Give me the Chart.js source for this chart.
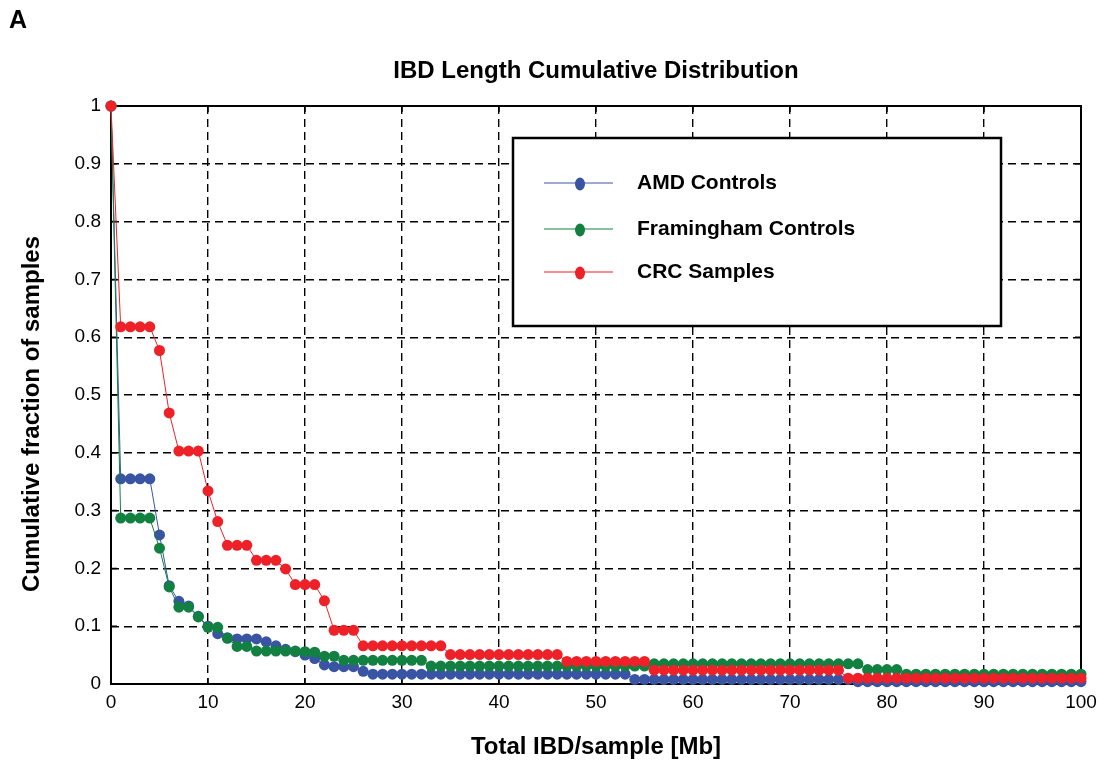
<!DOCTYPE html>
<html>
<head>
<meta charset="utf-8">
<script src="https://cdn.jsdelivr.net/npm/chart.js@4.4.1/dist/chart.umd.min.js"></script>
<style>
  html, body { margin: 0; padding: 0; background: #fff; }
  #wrap { width: 1106px; height: 766px; }
</style>
</head>
<body>
<div id="wrap"><canvas id="ibd" width="1106" height="766"></canvas></div>
<script>
// x positions: total IBD per sample, Mb
const mbValues = [0,1,2,3,4,5,6,7,8,9,10,11,12,13,14,15,16,17,18,19,20,
  21,22,23,24,25,26,27,28,29,30,31,32,33,34,35,36,37,38,39,40,
  41,42,43,44,45,46,47,48,49,50,51,52,53,54,55,56,57,58,59,60,
  61,62,63,64,65,66,67,68,69,70,71,72,73,74,75,76,77,78,79,80,
  81,82,83,84,85,86,87,88,89,90,91,92,93,94,95,96,97,98,99,100];

// AMD Controls
const amdControls = [1,
  0.355,0.355,0.355,0.355,0.258,0.17,0.143,0.135,0.117,0.1,
  0.087,0.08,0.078,0.078,0.078,0.073,0.066,0.06,0.056,0.05,
  0.044,0.033,0.03,0.03,0.03,0.022,0.017,0.017,0.017,0.017,
  0.017,0.017,0.017,0.017,0.017,0.017,0.017,0.017,0.017,0.017,
  0.017,0.017,0.017,0.017,0.017,0.017,0.017,0.017,0.017,0.017,
  0.017,0.017,0.017,0.008,0.008,0.008,0.008,0.008,0.008,0.008,
  0.008,0.008,0.008,0.008,0.008,0.008,0.008,0.008,0.008,0.008,
  0.008,0.008,0.008,0.008,0.008,0.008,0.004,0.004,0.004,0.004,
  0.004,0.004,0.004,0.004,0.004,0.004,0.004,0.004,0.004,0.004,
  0.004,0.004,0.004,0.004,0.004,0.004,0.004,0.004,0.004,0.004];

// Framingham Controls
const framinghamControls = [1,
  0.287,0.287,0.287,0.287,0.235,0.168,0.133,0.133,0.116,0.098,
  0.098,0.079,0.065,0.065,0.057,0.057,0.057,0.057,0.057,0.056,
  0.055,0.048,0.048,0.041,0.041,0.041,0.041,0.041,0.041,0.041,
  0.041,0.041,0.031,0.031,0.031,0.031,0.031,0.031,0.031,0.031,
  0.031,0.031,0.031,0.031,0.031,0.031,0.031,0.031,0.031,0.031,
  0.031,0.031,0.031,0.031,0.031,0.035,0.035,0.035,0.035,0.035,
  0.035,0.035,0.035,0.035,0.035,0.035,0.035,0.035,0.035,0.035,
  0.035,0.035,0.035,0.035,0.035,0.035,0.035,0.025,0.025,0.025,
  0.025,0.017,0.017,0.017,0.017,0.017,0.017,0.017,0.017,0.017,
  0.017,0.017,0.017,0.017,0.017,0.017,0.017,0.017,0.017,0.017];

// CRC Samples
const crcSamples = [1,
  0.618,0.618,0.618,0.618,0.577,0.469,0.403,0.403,0.403,0.334,
  0.281,0.24,0.24,0.24,0.214,0.214,0.214,0.199,0.172,0.172,
  0.172,0.144,0.093,0.093,0.093,0.066,0.066,0.066,0.066,0.066,
  0.066,0.066,0.066,0.066,0.051,0.051,0.051,0.051,0.051,0.051,
  0.051,0.051,0.051,0.051,0.051,0.051,0.039,0.039,0.039,0.039,
  0.039,0.039,0.039,0.039,0.039,0.024,0.024,0.024,0.024,0.024,
  0.024,0.024,0.024,0.024,0.024,0.024,0.024,0.024,0.024,0.024,
  0.024,0.024,0.024,0.024,0.024,0.01,0.01,0.01,0.01,0.01,
  0.01,0.01,0.01,0.01,0.01,0.01,0.01,0.01,0.01,0.01,
  0.01,0.01,0.01,0.01,0.01,0.01,0.01,0.01,0.01,0.01];

const chartTitle = 'IBD Length Cumulative Distribution';
const xTitle = 'Total IBD/sample [Mb]';
const yTitle = 'Cumulative fraction of samples';

const FONT = 'Arial, "Liberation Sans", Helvetica, sans-serif';

function toPoints(ys) {
  return mbValues.map((x, i) => ({ x: x, y: ys[i] }));
}

function series(label, ys, color, order) {
  return {
    label: label,
    data: toPoints(ys),
    borderColor: color,
    backgroundColor: color,
    pointBackgroundColor: color,
    pointBorderWidth: 0,
    pointRadius: 5.5,
    pointHoverRadius: 5.5,
    borderWidth: 1,
    tension: 0,
    clip: false,
    order: order
  };
}

const datasets = [
  series('AMD Controls', amdControls, '#3a54a4', 3),
  series('Framingham Controls', framinghamControls, '#128040', 2),
  series('CRC Samples', crcSamples, '#ee2128', 1)
];

// box, inward ticks, legend, titles and panel letter
const decor = {
  id: 'decor',
  beforeDatasetsDraw(chart) {
    const { ctx, chartArea: a, scales } = chart;
    ctx.save();
    ctx.strokeStyle = '#000';
    ctx.lineWidth = 2;
    ctx.strokeRect(a.left, a.top, a.right - a.left, a.bottom - a.top);
    ctx.lineWidth = 1.5;
    ctx.beginPath();
    scales.x.ticks.forEach(t => {
      const px = scales.x.getPixelForValue(t.value);
      ctx.moveTo(px, a.bottom); ctx.lineTo(px, a.bottom - 6);
      ctx.moveTo(px, a.top); ctx.lineTo(px, a.top + 6);
    });
    scales.y.ticks.forEach(t => {
      const py = scales.y.getPixelForValue(t.value);
      ctx.moveTo(a.left, py); ctx.lineTo(a.left + 6, py);
      ctx.moveTo(a.right, py); ctx.lineTo(a.right - 6, py);
    });
    ctx.stroke();
    ctx.restore();
  },
  afterDatasetsDraw(chart) {
    const { ctx, chartArea: a } = chart;
    ctx.save();
    // legend box
    const bx = a.left + 402, by = a.top + 32, bw = 488, bh = 188;
    ctx.fillStyle = '#fff';
    ctx.fillRect(bx, by, bw, bh);
    ctx.strokeStyle = '#000';
    ctx.lineWidth = 2.5;
    ctx.strokeRect(bx, by, bw, bh);
    const rows = [45, 91, 134];
    ctx.font = 'bold 21px ' + FONT;
    ctx.textBaseline = 'middle';
    ctx.textAlign = 'left';
    chart.data.datasets.forEach((ds, i) => {
      const y = by + rows[i];
      ctx.strokeStyle = ds.borderColor;
      ctx.lineWidth = 1;
      ctx.beginPath();
      ctx.moveTo(bx + 31, y); ctx.lineTo(bx + 100, y);
      ctx.stroke();
      ctx.fillStyle = ds.borderColor;
      ctx.beginPath();
      ctx.ellipse(bx + 67, y + 1, 5, 6.5, 0, 0, Math.PI * 2);
      ctx.fill();
      ctx.fillStyle = '#000';
      ctx.fillText(ds.label, bx + 124, y);
    });

    // chart title, centred over the plot area
    ctx.fillStyle = '#000';
    ctx.font = 'bold 24px ' + FONT;
    ctx.textAlign = 'center';
    ctx.fillText(chartTitle, (a.left + a.right) / 2, 71);

    // y axis title
    ctx.save();
    ctx.translate(32, a.top + 308);
    ctx.rotate(-Math.PI / 2);
    ctx.fillText(yTitle, 0, 0);
    ctx.restore();

    // panel letter
    ctx.textAlign = 'left';
    ctx.font = 'bold 25px ' + FONT;
    ctx.fillText('A', 9, 21);
    ctx.restore();
  }
};

new Chart(document.getElementById('ibd'), {
  type: 'line',
  data: { datasets: datasets },
  options: {
    responsive: false,
    animation: false,
    events: [],
    layout: { padding: { left: 0, right: 25, top: 106, bottom: 0 } },
    plugins: {
      legend: { display: false },
      tooltip: { enabled: false },
      title: { display: false }
    },
    scales: {
      x: {
        type: 'linear',
        min: 0,
        max: 100,
        ticks: {
          stepSize: 10,
          color: '#000',
          padding: 7,
          maxRotation: 0,
          font: { family: FONT, size: 19 }
        },
        grid: { color: '#000', lineWidth: 1.4, drawTicks: false },
        border: { display: false, dash: [8, 5] },
        title: {
          display: true,
          text: xTitle,
          color: '#000',
          font: { family: FONT, size: 24, weight: 'bold', lineHeight: 1.2 },
          padding: { top: 0, bottom: 4 }
        },
        afterFit(scale) { scale.height = 82; }
      },
      y: {
        min: 0,
        max: 1,
        ticks: {
          stepSize: 0.1,
          color: '#000',
          padding: 10,
          font: { family: FONT, size: 19 },
          callback: v => String(Number(v.toFixed(1)))
        },
        grid: { color: '#000', lineWidth: 1.4, drawTicks: false },
        border: { display: false, dash: [8, 5] },
        title: { display: false },
        afterFit(scale) { scale.width = 111; }
      }
    }
  },
  plugins: [decor]
});
</script>
</body>
</html>
